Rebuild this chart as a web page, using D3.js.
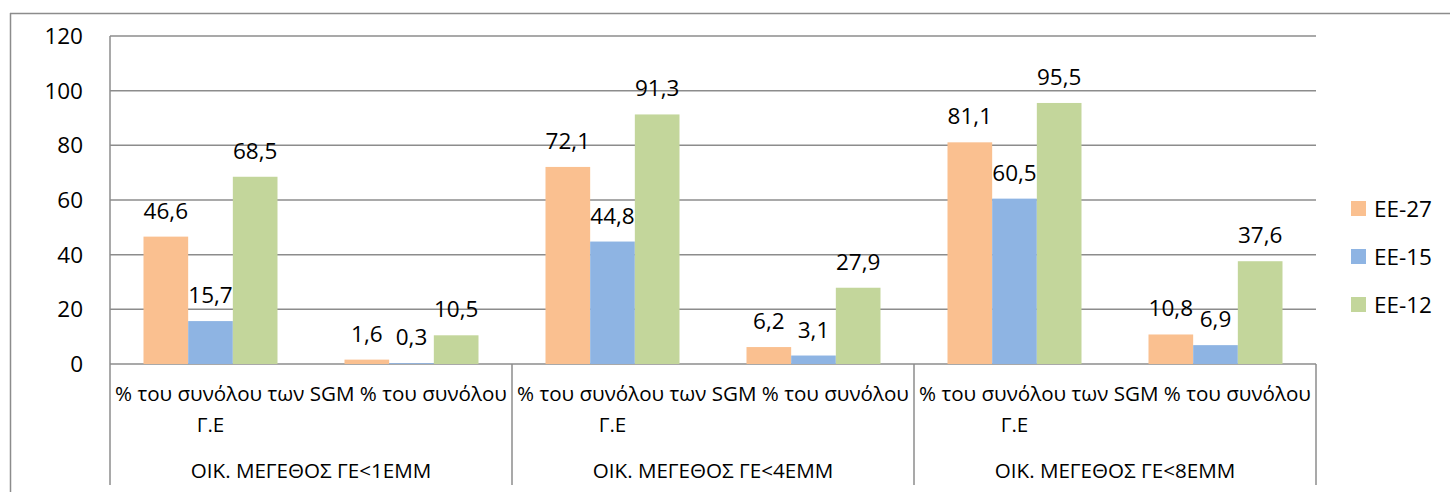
<!DOCTYPE html>
<html><head><meta charset="utf-8">
<script src="https://cdn.jsdelivr.net/npm/d3@7"></script>
<style>body{margin:0;background:#fff}svg{display:block}text{font-family:"Open Sans",sans-serif;fill:#000}</style>
</head><body><svg id="c" width="1450" height="492"></svg>
<script>
const groups = ["ΟΙΚ. ΜΕΓΕΘΟΣ ΓΕ<1ΕΜΜ","ΟΙΚ. ΜΕΓΕΘΟΣ ΓΕ<4ΕΜΜ","ΟΙΚ. ΜΕΓΕΘΟΣ ΓΕ<8ΕΜΜ"];
const subLabels = [["% του συνόλου των SGM","Γ.Ε"],["% του συνόλου"]];
const seriesNames = ["ΕΕ-27","ΕΕ-15","ΕΕ-12"];
const ee27 = [46.6, 1.6, 72.1, 6.2, 81.1, 10.8];
const ee15 = [15.7, 0.3, 44.8, 3.1, 60.5, 6.9];
const ee12 = [68.5, 10.5, 91.3, 27.9, 95.5, 37.6];
const yTicks = [0,20,40,60,80,100,120];
const colors = ["#FAC090","#8EB4E3","#C3D69B"];

const svg = d3.select("#c");
const L=110,R=1316,T=36,B=364,bottomEnd=485;
const cats = d3.range(6);
const x = d3.scaleBand().domain(cats).range([L,R]);
const step = x.bandwidth();
const xs = d3.scaleBand().domain(d3.range(3)).range([step/6, step*5/6]);
const y = d3.scaleLinear().domain([0,120]).range([B,T]);
const gridCol="#8c8c8c";
const numFont="22.5px", catFont="20.6px";

// outer frame
svg.append("line").attr("x1",10).attr("x2",1450).attr("y1",13.5).attr("y2",13.5).attr("stroke",gridCol).attr("stroke-width",1.5);
svg.append("line").attr("x1",10.5).attr("x2",10.5).attr("y1",13).attr("y2",492).attr("stroke",gridCol).attr("stroke-width",1.5);

// gridlines
svg.append("g").selectAll("line").data(yTicks).join("line")
  .attr("x1",L).attr("x2",R).attr("y1",d=>y(d)).attr("y2",d=>y(d))
  .attr("stroke",gridCol).attr("stroke-width",1.5);
// y axis line
svg.append("line").attr("x1",L).attr("x2",L).attr("y1",T).attr("y2",bottomEnd).attr("stroke",gridCol).attr("stroke-width",1.5);
// group separators
const gb = [2,4].map(i=>x(i)).concat([R]);
svg.append("g").selectAll("line").data(gb).join("line")
  .attr("x1",d=>d).attr("x2",d=>d).attr("y1",B).attr("y2",bottomEnd)
  .attr("stroke",gridCol).attr("stroke-width",1.5);

// y tick labels
svg.append("g").selectAll("text").data(yTicks).join("text")
  .attr("x",83).attr("y",d=>y(d)).attr("dy","0.36em").attr("text-anchor","end")
  .style("font-size",numFont).text(d=>d);

// bars
const series=[ee27,ee15,ee12];
series.forEach((s,si)=>{
  svg.append("g").selectAll("rect").data(s).join("rect")
    .attr("x",(d,i)=>x(i)+xs(si)).attr("width",xs.bandwidth())
    .attr("y",d=>y(d)).attr("height",d=>B-y(d)).attr("fill",colors[si]);
});
// labels
series.forEach((s,si)=>{
  svg.append("g").selectAll("text").data(s).join("text")
    .attr("x",(d,i)=>x(i)+xs(si)+xs.bandwidth()/2).attr("y",d=>y(d)-18)
    .attr("text-anchor","middle").style("font-size",numFont)
    .text(d=>d3.format(".1f")(d).replace(".",","));
});

// category labels
groups.forEach((g,gi)=>{
  const x0=x(gi*2), x1=x(gi*2+1);
  svg.append("text").attr("x",x1).attr("y",401).attr("text-anchor","middle").style("font-size",catFont)
    .text(subLabels[0][0]+" "+subLabels[1][0]);
  svg.append("text").attr("x",x0+step/2).attr("y",432).attr("text-anchor","middle").style("font-size",catFont).text(subLabels[0][1]);
  svg.append("text").attr("x",x1).attr("y",478).attr("text-anchor","middle").style("font-size",catFont).text(g);
});

// legend
const lg = svg.append("g");
seriesNames.forEach((n,i)=>{
  const yy=201+i*48;
  lg.append("rect").attr("x",1351).attr("y",yy).attr("width",15).attr("height",15).attr("fill",colors[i]);
  lg.append("text").attr("x",1374).attr("y",yy+8).attr("dy","0.36em").style("font-size",numFont).text(n);
});
</script></body></html>
